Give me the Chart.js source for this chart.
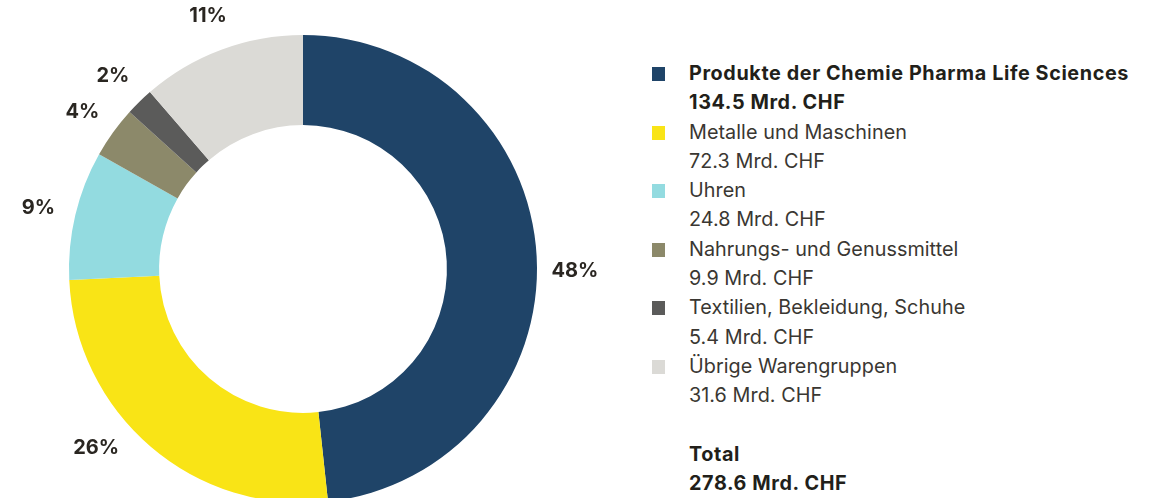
<!DOCTYPE html>
<html lang="de">
<head>
<meta charset="utf-8">
<title>Exporte nach Warengruppen</title>
<script src="https://cdn.jsdelivr.net/npm/chart.js@4/dist/chart.umd.min.js"></script>
<style>
  html, body { margin: 0; padding: 0; background: #fff; overflow: hidden; width: 1161px; height: 498px; }
  #chartBox { position: absolute; left: 0; top: 0; width: 606px; height: 538px; }
  #legend {
    position: absolute; left: 652px; top: 59px;
    font-family: Inter, "Noto Sans", sans-serif; font-size: 19.8px; line-height: 29.3px;
    color: #3a3732; letter-spacing: 0.05px;
  }
  .item { position: relative; padding-left: 37px; }
  .swatch { position: absolute; left: 0; top: 8px; width: 13px; height: 14px; }
  .bold { font-weight: 700; color: #221f1a; letter-spacing: 0.6px; }
  .total { margin-top: 29.3px; }
</style>
</head>
<body>
<div id="chartBox"><canvas id="donut" width="606" height="538"></canvas></div>
<div id="legend"></div>
<script>
'use strict';

const CATEGORIES = [
  'Produkte der Chemie Pharma Life Sciences',
  'Metalle und Maschinen',
  'Uhren',
  'Nahrungs- und Genussmittel',
  'Textilien, Bekleidung, Schuhe',
  'Übrige Warengruppen',
];
const VALUES = [134.5, 72.3, 24.8, 9.9, 5.4, 31.6];   // Mrd. CHF
const TOTAL = 278.6;                                   // Mrd. CHF
const UNIT = 'Mrd. CHF';

const COLORS = ['#1f4468', '#f9e416', '#93dbe0', '#8c896a', '#5b5b5a', '#dbdad6'];

// label angle overrides (degrees clockwise from top), null = slice middle
const LABEL_ANGLES = [90, 229.5, null, null, null, null];

const sum = VALUES.reduce((a, b) => a + b, 0);
const pct = v => Math.round(v / sum * 100) + '%';

// ── outside percentage labels ────────────────────────────────────────────────
const outerLabels = {
  id: 'outerLabels',
  afterDatasetsDraw(chart, args, opts) {
    const { ctx } = chart;
    const meta = chart.getDatasetMeta(0);
    ctx.save();
    ctx.font = opts.font;
    ctx.fillStyle = opts.color;
    ctx.textAlign = 'center';
    ctx.textBaseline = 'middle';
    meta.data.forEach((arc, i) => {
      let ang = (arc.startAngle + arc.endAngle) / 2;
      if (opts.angles[i] != null) ang = opts.angles[i] * Math.PI / 180 - Math.PI / 2;
      const r = arc.outerRadius + opts.offset;
      ctx.fillText(pct(VALUES[i]), arc.x + Math.cos(ang) * r, arc.y + Math.sin(ang) * r + 2);
    });
    ctx.restore();
  },
};

new Chart(document.getElementById('donut'), {
  type: 'doughnut',
  data: {
    labels: CATEGORIES,
    datasets: [{
      data: VALUES,
      backgroundColor: COLORS,
      borderWidth: 0,
      hoverBorderWidth: 0,
      hoverOffset: 0,
    }],
  },
  options: {
    responsive: false,
    animation: false,
    radius: 234,
    cutout: '61.5%',
    layout: { padding: 0 },
    events: [],
    plugins: {
      legend: { display: false },
      tooltip: { enabled: false },
      outerLabels: { font: '700 20px Inter, "Noto Sans", sans-serif', color: '#2a2621', offset: 38, angles: LABEL_ANGLES },
    },
  },
  plugins: [outerLabels],
});

// ── HTML legend ──────────────────────────────────────────────────────────────
const legend = document.getElementById('legend');
CATEGORIES.forEach((name, i) => {
  const item = document.createElement('div');
  item.className = 'item' + (i === 0 ? ' bold' : '');
  item.innerHTML = `<span class="swatch" style="background:${COLORS[i]}"></span>` +
    `<div>${name}</div><div>${VALUES[i].toFixed(1)} ${UNIT}</div>`;
  legend.appendChild(item);
});
const total = document.createElement('div');
total.className = 'item bold total';
total.innerHTML = `<div>Total</div><div>${TOTAL.toFixed(1)} ${UNIT}</div>`;
legend.appendChild(total);
</script>
</body>
</html>
